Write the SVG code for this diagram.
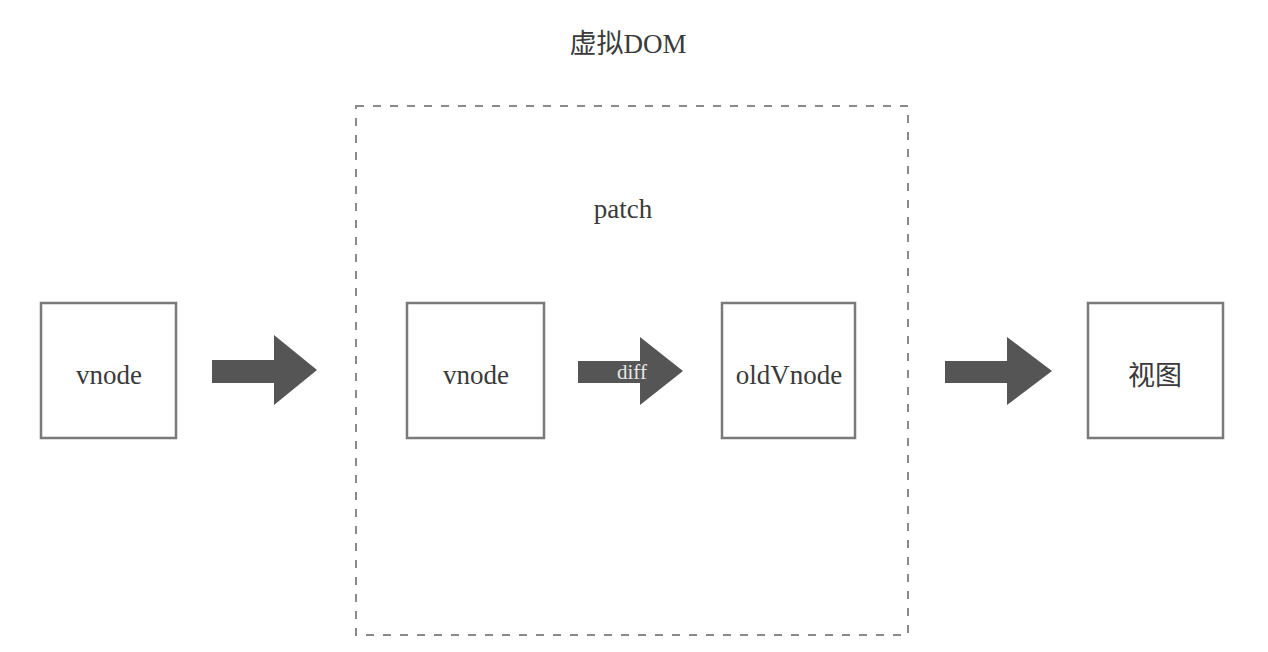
<svg xmlns="http://www.w3.org/2000/svg" width="1268" height="652" viewBox="0 0 1268 652">
<style>
.box{fill:#fff;stroke:#7a7a7a;stroke-width:2.5}
.t{font-family:"Liberation Serif","Noto Sans CJK SC",serif;font-size:27px;fill:#3a3a3a;text-anchor:middle}
.arr{fill:#555}
.frame{fill:none;stroke:#8a8a8a;stroke-width:2;stroke-dasharray:8,9}
</style>
<rect width="1268" height="652" fill="#fff"/>
<text class="t" x="628" y="53">虚拟DOM</text>
<g id="frame"><rect class="frame" x="356" y="106" width="552" height="529"/><text class="t" x="623" y="218">patch</text></g>
<g id="n1"><rect class="box" x="41" y="303" width="135" height="135"/><text class="t" x="109" y="384">vnode</text></g>
<g id="n2"><rect class="box" x="407" y="303" width="137" height="135"/><text class="t" x="476" y="384">vnode</text></g>
<g id="n3"><rect class="box" x="722" y="303" width="133" height="135"/><text class="t" x="789" y="384">oldVnode</text></g>
<g id="n4"><rect class="box" x="1088" y="303" width="135" height="135"/><text class="t" x="1155" y="385">视图</text></g>
<g id="connectors">
<polygon class="arr" points="212,360 274,360 274,335 317,370 274,405 274,383 212,383"/>
<polygon class="arr" points="578,361 640,361 640,337 683,371 640,405 640,383 578,383"/>
<text x="632" y="379" font-family="Liberation Serif,serif" font-size="21" fill="#e6e6e6" text-anchor="middle">diff</text>
<polygon class="arr" points="945,361 1007,361 1007,337 1052,371 1007,405 1007,383 945,383"/>
</g>
</svg>
